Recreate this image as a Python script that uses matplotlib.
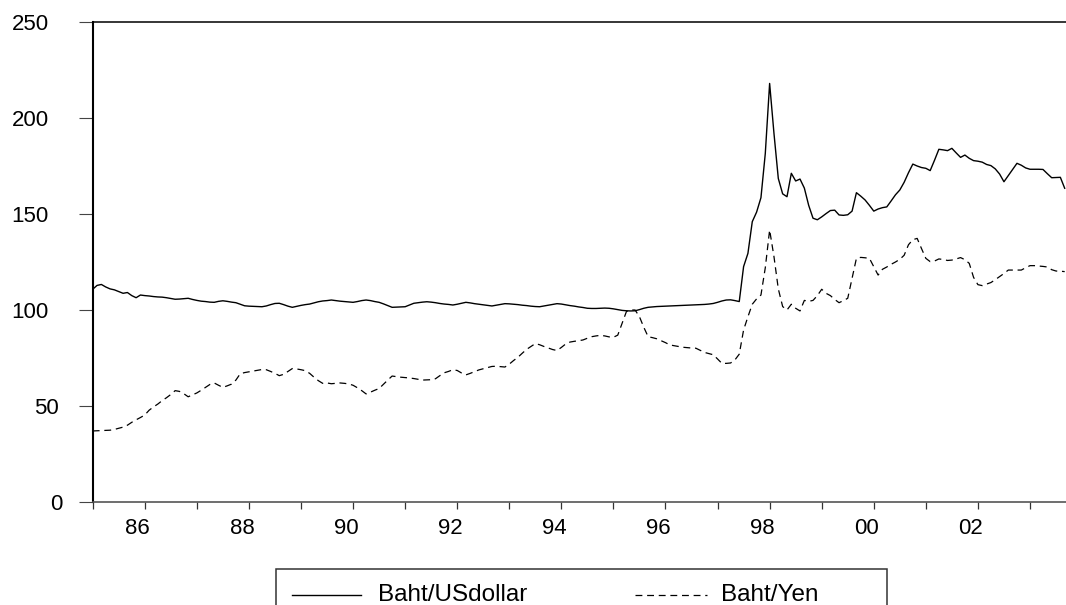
import matplotlib
matplotlib.use("Agg")
import matplotlib.pyplot as plt
import matplotlib.transforms as mtransforms
from matplotlib import font_manager
from matplotlib.lines import Line2D
from matplotlib.patches import Rectangle
import numpy as np

plt.rcParams['font.family'] = ['Liberation Sans', 'DejaVu Sans']

# monthly indices, 1985M1 - 2003M9
usd_index = [
    110.8, 112.8, 113.3, 112.0, 111.0, 110.5, 109.6, 108.7, 109.1, 107.5, 106.4, 107.8,  # 1985
    107.5, 107.3, 107.0, 106.8, 106.7, 106.4, 106.0, 105.6, 105.7, 105.9, 106.1, 105.5,  # 1986
    105.0, 104.6, 104.4, 104.1, 104.0, 104.5, 104.8, 104.5, 104.1, 103.8, 103.0, 102.2,  # 1987
    102.0, 101.9, 101.8, 101.7, 102.1, 102.8, 103.4, 103.5, 102.8, 102.0, 101.4, 101.9,  # 1988
    102.4, 102.8, 103.1, 103.7, 104.3, 104.7, 104.9, 105.2, 104.9, 104.6, 104.4, 104.2,  # 1989
    104.0, 104.4, 104.9, 105.2, 104.9, 104.4, 104.0, 103.2, 102.3, 101.4, 101.5, 101.6,  # 1990
    101.7, 102.6, 103.5, 103.8, 104.1, 104.3, 104.1, 103.8, 103.4, 103.1, 102.9, 102.6,  # 1991
    103.0, 103.5, 104.0, 103.7, 103.3, 103.0, 102.7, 102.4, 102.1, 102.5, 102.9, 103.3,  # 1992
    103.2, 103.0, 102.8, 102.5, 102.3, 102.0, 101.8, 101.7, 102.1, 102.5, 102.9, 103.3,  # 1993
    103.1, 102.7, 102.3, 102.0, 101.6, 101.3, 100.9, 100.8, 100.8, 100.9, 101.0, 100.9,  # 1994
    100.6, 100.2, 99.8, 99.6, 99.5, 99.6, 100.2, 100.9, 101.4, 101.6, 101.8, 101.9,      # 1995
    102.0, 102.1, 102.2, 102.3, 102.4, 102.5, 102.6, 102.7, 102.8, 102.9, 103.1, 103.4,  # 1996
    104.0, 104.7, 105.2, 105.3, 104.9, 104.4, 122.6, 129.5, 146.0, 151.0, 158.5, 181.5,  # 1997
    218.0, 192.0, 168.5, 160.5, 159.0, 171.2, 167.2, 168.2, 163.5, 154.5, 147.8, 147.0,  # 1998
    148.5, 150.2, 151.8, 152.0, 149.5, 149.3, 149.6, 151.5, 161.1, 159.3, 157.3, 154.5,  # 1999
    151.5, 152.6, 153.3, 153.7, 156.8, 160.0, 162.5, 166.5, 171.5, 176.0, 175.0, 174.2,  # 2000
    173.8, 172.6, 178.0, 183.7, 183.4, 183.0, 184.2, 181.8, 179.5, 180.7, 179.0, 177.8,  # 2001
    177.5, 177.0, 175.8, 175.2, 173.5, 170.8, 166.8, 170.0, 173.2, 176.4, 175.4, 174.0,  # 2002
    173.3, 173.3, 173.3, 173.2, 171.0, 168.9, 169.0, 169.1, 163.4,                       # 2003
]

yen_index = [
    37.0, 37.1, 37.2, 37.3, 37.4, 37.8, 38.4, 39.0, 40.0, 41.5, 42.8, 44.0,              # 1985
    45.3, 47.8, 49.5, 51.0, 52.8, 54.3, 56.0, 58.0, 57.6, 56.4, 54.8, 55.8,              # 1986
    56.8, 58.2, 59.7, 61.2, 62.0, 60.8, 59.7, 60.5, 61.4, 63.5, 66.8, 67.4,              # 1987
    67.8, 68.2, 68.6, 69.0, 68.9, 68.0, 67.0, 65.8, 66.5, 68.0, 69.5, 69.3,              # 1988
    68.9, 68.4, 67.0, 65.0, 63.2, 61.8, 62.0, 61.6, 61.8, 62.0, 61.8, 61.5,              # 1989
    60.8, 59.5, 58.0, 56.3, 57.2, 58.2, 59.1, 61.3, 63.5, 65.6, 65.3, 65.0,              # 1990
    64.8, 64.6, 64.3, 63.9, 63.5, 63.6, 63.7, 64.2, 65.8, 67.3, 68.0, 68.9,              # 1991
    68.5, 67.2, 66.2, 67.0, 67.9, 68.8, 69.4, 70.0, 70.6, 70.7, 70.5, 70.3,              # 1992
    71.8, 73.7, 75.4, 77.5, 79.5, 81.0, 82.5, 81.9, 81.0, 80.2, 79.4, 78.9,              # 1993
    80.5, 82.3, 83.3, 83.7, 84.0, 84.4, 85.3, 86.1, 86.5, 86.8, 86.5, 86.0,              # 1994
    85.8, 86.9, 93.0, 99.2, 100.0, 100.0, 96.5, 91.0, 86.1, 85.6, 85.0, 84.0,            # 1995
    83.0, 81.8, 81.4, 81.0, 80.6, 80.4, 80.2, 80.1, 79.0, 77.9, 77.3, 76.7,              # 1996
    74.5, 72.2, 72.2, 72.4, 74.0, 77.0, 89.6, 96.5, 103.0, 105.8, 107.8, 122.0,          # 1997
    141.7, 127.8, 111.0, 101.8, 100.0, 103.0, 100.9, 99.5, 105.0, 104.5, 105.0, 107.5,   # 1998
    110.8, 108.7, 107.5, 105.5, 103.8, 104.9, 106.1, 116.5, 126.9, 127.4, 127.2, 126.9,  # 1999
    122.5, 118.2, 121.2, 122.4, 123.8, 125.0, 126.4, 128.5, 134.0, 136.6, 137.3, 132.0,  # 2000
    126.9, 125.2, 125.5, 126.6, 126.3, 125.8, 126.0, 126.6, 127.3, 126.2, 124.3, 117.0,  # 2001
    113.2, 112.7, 113.5, 114.3, 115.8, 117.4, 119.0, 120.8, 120.8, 120.8, 120.8, 122.0,  # 2002
    123.1, 123.1, 122.9, 122.7, 122.4, 121.0, 120.3, 120.2, 120.0,                       # 2003
]

years = list(range(1985, 2004))
y_ticks = [0, 50, 100, 150, 200, 250]
series_names = ['Baht/USdollar', 'Baht/Yen']

W, H = 1066, 605
DASH = (0, (5.5, 3.8))

fig = plt.figure(figsize=(W / 100, H / 100), dpi=100)
ax = fig.add_axes([92.7 / W, 103 / H, (W - 92.7) / W, 480 / H])

months = np.arange(len(usd_index))
ax.plot(months, usd_index, color='black', lw=1.0)
ax.plot(months, yen_index, color='black', lw=0.9, linestyle=DASH)

ax.set_xlim(0, 224.3)
ax.set_ylim(0, 250)

ax.spines['right'].set_visible(False)
ax.spines['left'].set_linewidth(1.5)
ax.spines['top'].set_linewidth(1.1)
ax.spines['bottom'].set_linewidth(1.2)
ax.spines['bottom'].set_color('#555555')

# y axis
ax.set_yticks(y_ticks)
ax.set_yticklabels([str(v) for v in y_ticks])
ax.tick_params(axis='y', direction='out', length=10, width=0.8, color='#444444',
               pad=21.6, labelsize=16)
shifts = {'0': 14, '50': 10}
for lab in ax.get_yticklabels():
    dx = shifts.get(lab.get_text(), 0)
    if dx:
        lab.set_transform(lab.get_transform() +
                          mtransforms.ScaledTranslation(dx / 100, 0, fig.dpi_scale_trans))

# x axis: a tick each January, labels on even years
ax.set_xticks([(y - 1985) * 12 for y in years])
ax.set_xticklabels(['%02d' % (y % 100) if y % 2 == 0 else '' for y in years])
ax.tick_params(axis='x', direction='out', length=5, width=0.9, color='#333333',
               pad=6.5, labelsize=16)
for lab in ax.get_xticklabels():
    lab.set_transform(lab.get_transform() +
                      mtransforms.ScaledTranslation(-7 / 100, 0, fig.dpi_scale_trans))

# legend box along the bottom edge
installed = {f.name for f in font_manager.fontManager.ttflist}
if 'Liberation Sans Narrow' in installed:
    leg_font, leg_size = 'Liberation Sans Narrow', 21
else:
    leg_font, leg_size = 'Liberation Sans', 17.5

def fx(px):
    return px / W

def fy(py):
    return 1 - py / H

fig.add_artist(Rectangle((fx(275.5), fy(620)), fx(886.5) - fx(275.5), fy(569) - fy(620),
                         transform=fig.transFigure, fill=False, edgecolor='#333333',
                         lw=1.1, clip_on=False))
fig.add_artist(Line2D([fx(292), fx(361)], [fy(595), fy(595)], color='black', lw=1.0,
                      transform=fig.transFigure))
fig.add_artist(Line2D([fx(635), fx(707)], [fy(595), fy(595)], color='black', lw=0.9,
                      linestyle=DASH, transform=fig.transFigure))
fig.text(fx(378), fy(601), series_names[0], family=[leg_font, 'DejaVu Sans'],
         fontsize=leg_size, va='baseline', ha='left')
fig.text(fx(721), fy(601), series_names[1], family=[leg_font, 'DejaVu Sans'],
         fontsize=leg_size, va='baseline', ha='left')

fig.savefig('out.png', dpi=100)
